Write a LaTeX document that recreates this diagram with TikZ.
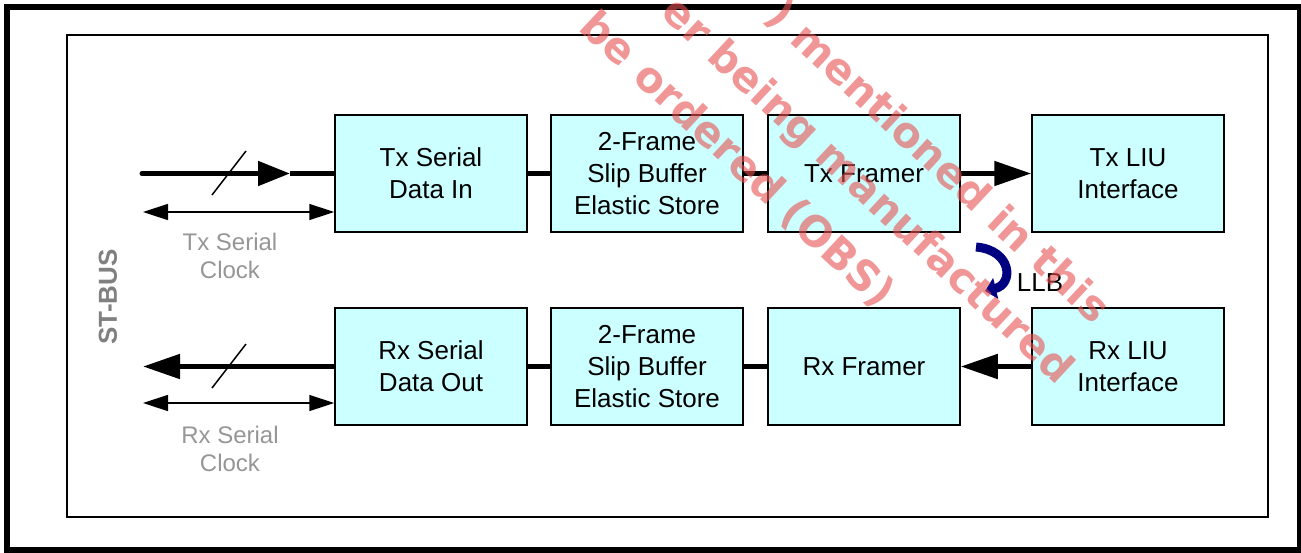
\documentclass[tikz,border=0pt]{standalone}
\usepackage{fontspec}
\setmainfont{Liberation Sans}
\newfontfamily\wmfont{DejaVu Sans}
\usetikzlibrary{arrows.meta}
\definecolor{boxcyan}{RGB}{204,255,255}
\definecolor{labelgray}{RGB}{150,150,150}
\definecolor{busgray}{RGB}{128,128,128}
\definecolor{llbnavy}{RGB}{0,0,128}
\definecolor{wmred}{RGB}{232,80,80}

\begin{document}
\begin{tikzpicture}[x=1pt,y=-1pt,
	block_node/.style={rectangle,fill=boxcyan,draw,line width=1.5pt,minimum width=192pt,minimum height=117pt,align=center,inner sep=0pt,font=\fontsize{26}{32}\selectfont},
	bus_line/.style={line width=5pt},
	clk_line/.style={line width=1.5pt,{Triangle[length=25pt,width=16pt]}-{Triangle[length=25pt,width=16pt]}},
	gray_label/.style={text=labelgray,align=center,font=\fontsize{24}{28}\selectfont},
	wm_text/.style={text=wmred,text opacity=0.6,rotate=-43,inner sep=0pt,font=\wmfont\bfseries\fontsize{42}{42}\selectfont}]
		
		\useasboundingbox (0,0) rectangle (1301,552);
		\draw[line width=6pt] (7,7) rectangle (1300,550);
		\draw[line width=1.8pt] (67,35) rectangle (1268,517);
		
		\node[block_node] (txin) at (431,173.5) {Tx Serial\\Data In};
		\node[block_node] (txbuf) at (647,173.5) {2-Frame\\Slip Buffer\\Elastic Store};
		\node[block_node] (txfr) at (864,173.5) {Tx Framer};
		\node[block_node] (txliu) at (1128,173.5) {Tx LIU\\Interface};
		\node[block_node] (rxout) at (431,366.5) {Rx Serial\\Data Out};
		\node[block_node] (rxbuf) at (647,366.5) {2-Frame\\Slip Buffer\\Elastic Store};
		\node[block_node] (rxfr) at (864,366.5) {Rx Framer};
		\node[block_node] (rxliu) at (1128,366.5) {Rx LIU\\Interface};
		
		\coordinate (txsrc) at (142,173.5);
		\coordinate (txhead) at (290,173.5);
		\coordinate (rxdst) at (143,366.5);
		\coordinate (txclk) at (143,212);
		\coordinate (rxclk) at (143,403);
		
		\draw[bus_line,line cap=round,-{Triangle[length=32pt,width=24pt]}] (txsrc) -- (txhead);
		\draw[bus_line] (txhead) -- (txin);
		\draw[bus_line] (txin) -- (txbuf);
		\draw[bus_line] (txbuf) -- (txfr);
		\draw[bus_line,-{Triangle[length=37pt,width=24pt]}] (txfr) -- (txliu);
		\draw[bus_line,-{Triangle[length=37pt,width=24pt]}] (rxliu) -- (rxfr);
		\draw[bus_line] (rxfr) -- (rxbuf);
		\draw[bus_line] (rxbuf) -- (rxout);
		\draw[bus_line,-{Triangle[length=37pt,width=24pt]}] (rxout) -- (rxdst);
		
		\draw[line width=1.5pt] (212,195) -- (246,151);
		\draw[line width=1.5pt] (212,388) -- (246,344);
		
		\draw[clk_line] (txclk) -- (txin.west |- txclk);
		\draw[clk_line] (rxclk) -- (rxout.west |- rxclk);
		\node[gray_label] (txclklbl) at (230,256) {Tx Serial\\Clock};
		\node[gray_label] (rxclklbl) at (230,449) {Rx Serial\\Clock};
		
		\node[rotate=90,text=busgray,font=\bfseries\fontsize{26}{26}\selectfont] (stbus) at (108,297) {ST-BUS};
		
		\draw[llbnavy,line width=9pt,-{Triangle[length=11pt,width=21pt]}] (976,247) .. controls (1012,250) and (1014,284) .. (985,291);
		\node[font=\fontsize{26}{26}\selectfont] (llb) at (1040,283) {LLB};
		
		\node[wm_text] (wm1) at (938,162) {) mentioned in this};
		\node[wm_text] (wm2) at (866,192) {er being manufactured};
		\node[wm_text] (wm3) at (737,160) {be ordered (OBS)};
		\end{tikzpicture}
\end{document}
